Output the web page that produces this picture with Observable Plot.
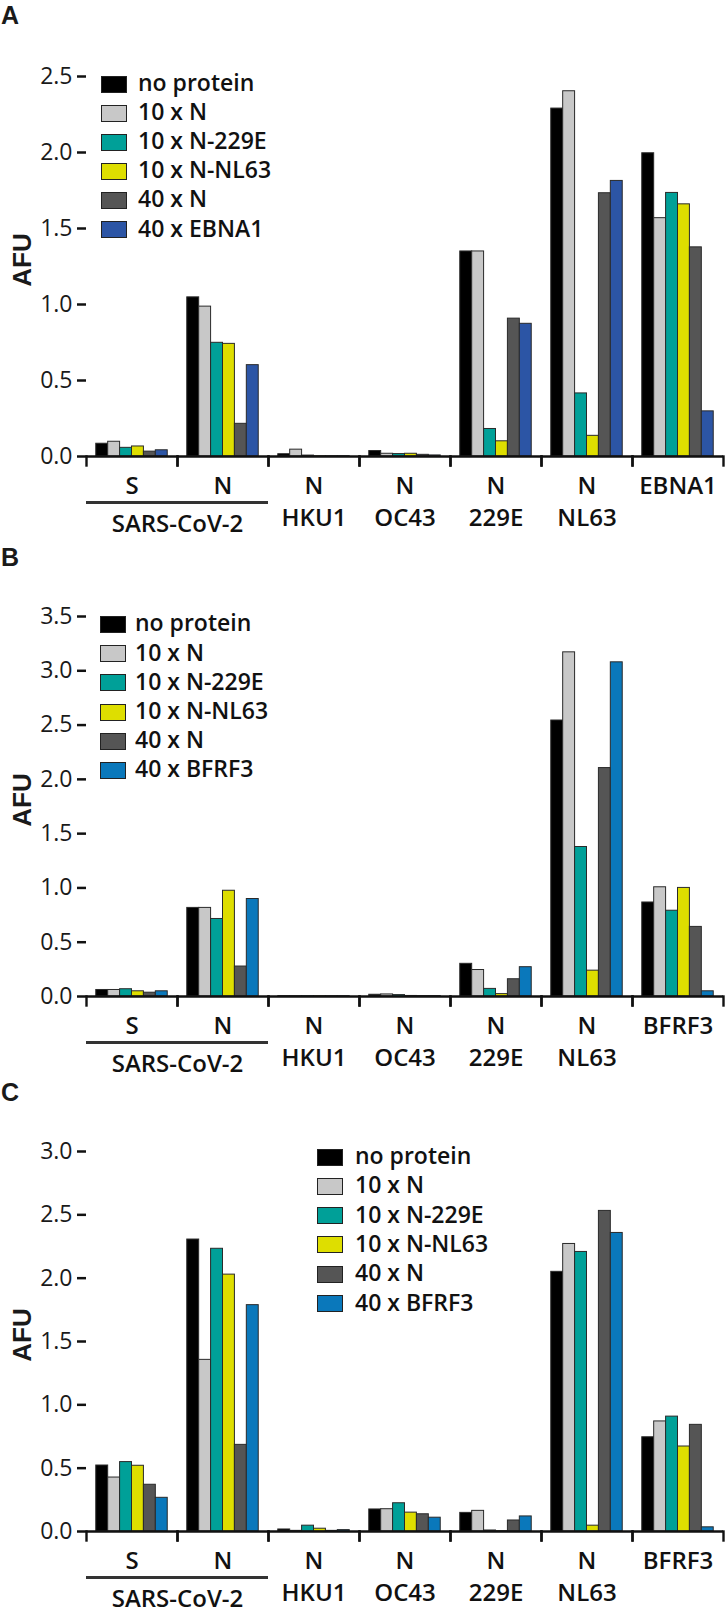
<!DOCTYPE html>
<html>
<head>
<meta charset="utf-8">
<script src="https://cdn.jsdelivr.net/npm/d3@7"></script>
<script src="https://cdn.jsdelivr.net/npm/@observablehq/plot@0.6"></script>
<style>
  html, body { margin: 0; padding: 0; background: #fff; }
  body { width: 726px; font-family: "Open Sans", sans-serif; color: #1a1a1a; }
  .panel { position: relative; width: 726px; overflow: visible; }
  .letter { position: absolute; left: 1px; font: bold 25px "Liberation Sans", Arial, sans-serif; line-height: 1; }
  .ylabel { position: absolute; font: bold 26px "Liberation Sans", Arial, sans-serif; transform: translate(-50%, -50%) rotate(-90deg); white-space: nowrap; line-height: 1; }
  .sw { position: absolute; width: 24px; height: 15px; border: 1.3px solid #222; }
  .lt { position: absolute; font-family: "Open Sans", sans-serif; font-weight: 600; font-size: 23px; line-height: 1; white-space: nowrap; transform: translateY(-55%); color: #111; }
  svg { display: block; }
</style>
</head>
<body>
<div id="root"></div>
<script>
// ---------- data ----------
const categoryKeys = ["SARS-S", "SARS-N", "HKU1", "OC43", "229E", "NL63", "EBV"];
const topLabelsA = ["S", "N", "N", "N", "N", "N", "EBNA1"];
const topLabelsBC = ["S", "N", "N", "N", "N", "N", "BFRF3"];
const bottomLabels = ["", "", "HKU1", "OC43", "229E", "NL63", ""];
const groupLabel = "SARS-CoV-2";
const groupKeys = ["SARS-S", "SARS-N"];

const seriesA = ["no protein", "10 x N", "10 x N-229E", "10 x N-NL63", "40 x N", "40 x EBNA1"];
const seriesBC = ["no protein", "10 x N", "10 x N-229E", "10 x N-NL63", "40 x N", "40 x BFRF3"];
const colorsA = ["#000000", "#c8c8c8", "#00a098", "#dede00", "#555555", "#2c55a5"];
const colorsBC = ["#000000", "#c8c8c8", "#00a098", "#dede00", "#555555", "#0a78bb"];

// rows = categories, columns = series
const valuesA = [
  [0.084, 0.097, 0.057, 0.066, 0.032, 0.041],
  [1.047, 0.986, 0.748, 0.741, 0.215, 0.601],
  [0.015, 0.045, 0.006, 0.002, 0.002, 0.002],
  [0.036, 0.018, 0.016, 0.018, 0.011, 0.007],
  [1.349, 1.349, 0.181, 0.100, 0.907, 0.873],
  [2.289, 2.403, 0.415, 0.136, 1.732, 1.813],
  [1.995, 1.568, 1.734, 1.659, 1.376, 0.297]
];
const valuesB = [
  [0.060, 0.060, 0.067, 0.048, 0.035, 0.048],
  [0.816, 0.816, 0.714, 0.974, 0.276, 0.898],
  [0.003, 0.003, 0.003, 0.003, 0.003, 0.003],
  [0.016, 0.019, 0.013, 0.005, 0.004, 0.004],
  [0.301, 0.244, 0.070, 0.022, 0.159, 0.270],
  [2.542, 3.170, 1.377, 0.238, 2.104, 3.078],
  [0.866, 1.006, 0.790, 1.000, 0.641, 0.048]
];
const valuesC = [
  [0.521, 0.426, 0.548, 0.519, 0.369, 0.266],
  [2.305, 1.355, 2.232, 2.028, 0.684, 1.787],
  [0.016, 0.005, 0.046, 0.022, 0.005, 0.011],
  [0.174, 0.176, 0.223, 0.149, 0.136, 0.109],
  [0.147, 0.163, 0.008, 0.003, 0.087, 0.119],
  [2.050, 2.270, 2.207, 0.046, 2.531, 2.357],
  [0.744, 0.869, 0.907, 0.671, 0.842, 0.033]
];
const ticksA = [0, 0.5, 1.0, 1.5, 2.0, 2.5];
const ticksB = [0, 0.5, 1.0, 1.5, 2.0, 2.5, 3.0, 3.5];
const ticksC = [0, 0.5, 1.0, 1.5, 2.0, 2.5, 3.0];

// ---------- drawing ----------
function makePanel(cfg) {
  const {letter, height, series, colors, values, topLabels, ticks, legendSwX, legendTxtX, legendY0, legendStep, letterTop} = cfg;
  const rows = [];
  categoryKeys.forEach((k, i) => series.forEach((s, j) => rows.push({key: k, series: s, value: values[i][j]})));
  const cats = categoryKeys.map((k, i) => ({key: k, top: topLabels[i], bottom: bottomLabels[i]}));

  const marginTop = 76, plotH = 380;
  const chart = Plot.plot({
    width: 726,
    height,
    marginLeft: 86,
    marginRight: 3,
    marginTop,
    marginBottom: height - marginTop - plotH,
    style: {fontFamily: "'Open Sans', sans-serif", fontSize: "23px", color: "#1a1a1a", background: "white", overflow: "visible"},
    fx: {domain: categoryKeys, padding: 0, axis: null, round: false},
    x: {domain: series, paddingInner: 0, paddingOuter: 0.82, axis: null, round: false},
    y: {domain: [0, ticks[ticks.length - 1]], axis: null},
    color: {domain: series, range: colors},
    marks: [
      Plot.barY(rows, {fx: "key", x: "series", y: "value", fill: "series", stroke: "#2a2a2a", strokeWidth: 1}),
      Plot.ruleY([0], {strokeWidth: 2.6, stroke: "#111"}),
      Plot.frame({anchor: "left", insetTop: plotH, insetBottom: -9, strokeWidth: 2.4, stroke: "#111"}),
      Plot.frame({anchor: "right", insetTop: plotH, insetBottom: -9, strokeWidth: 2.4, stroke: "#111"}),
      Plot.axisY({ticks, tickFormat: d3.format(".1f"), tickSize: 9, tickPadding: 5, strokeWidth: 2.5, line: true, label: null, fontSize: 23, stroke: "#111"}),
      Plot.text(cats, {fx: "key", text: "top", frameAnchor: "bottom", textAnchor: "middle", lineAnchor: "middle", dy: 30, fontSize: 24, fontWeight: 600, fill: "#111"}),
      Plot.text(cats, {fx: "key", text: "bottom", frameAnchor: "bottom", textAnchor: "middle", lineAnchor: "middle", dy: 62, fontSize: 24, fontWeight: 600, fill: "#111"}),
      Plot.ruleY(groupKeys, {fx: d => d, y: () => 0, dy: 46, strokeWidth: 2.8, stroke: "#333"}),
      Plot.text([groupKeys[0]], {fx: d => d, text: () => groupLabel, frameAnchor: "bottom-right", textAnchor: "middle", lineAnchor: "middle", dy: 68, fontSize: 24, fontWeight: 600, fill: "#111"})
    ]
  });

  const div = document.createElement("div");
  div.className = "panel";
  div.style.height = height + "px";
  div.appendChild(chart);

  const lt = document.createElement("div");
  lt.className = "letter";
  lt.style.top = letterTop + "px";
  lt.textContent = letter;
  div.appendChild(lt);

  const yl = document.createElement("div");
  yl.className = "ylabel";
  yl.style.left = "22px";
  yl.style.top = "260px";
  yl.textContent = "AFU";
  div.appendChild(yl);

  series.forEach((s, j) => {
    const cy = legendY0 + j * legendStep;
    const sw = document.createElement("div");
    sw.className = "sw";
    sw.style.left = legendSwX + "px";
    sw.style.top = (cy - 8.5) + "px";
    sw.style.background = colors[j];
    div.appendChild(sw);
    const t = document.createElement("div");
    t.className = "lt";
    t.style.left = legendTxtX + "px";
    t.style.top = cy + "px";
    t.textContent = s;
    div.appendChild(t);
  });
  return div;
}

const root = document.getElementById("root");
root.appendChild(makePanel({letter: "A", height: 540, series: seriesA, colors: colorsA, values: valuesA, topLabels: topLabelsA, ticks: ticksA,
  legendSwX: 101, legendTxtX: 138, legendY0: 84, legendStep: 29.1, letterTop: 3}));
root.appendChild(makePanel({letter: "B", height: 535, series: seriesBC, colors: colorsBC, values: valuesB, topLabels: topLabelsBC, ticks: ticksB,
  legendSwX: 99.5, legendTxtX: 135, legendY0: 84.4, legendStep: 29.2, letterTop: 5}));
root.appendChild(makePanel({letter: "C", height: 541, series: seriesBC, colors: colorsBC, values: valuesC, topLabels: topLabelsBC, ticks: ticksC,
  legendSwX: 317, legendTxtX: 355, legendY0: 82, legendStep: 29.3, letterTop: 5}));
</script>
</body>
</html>
